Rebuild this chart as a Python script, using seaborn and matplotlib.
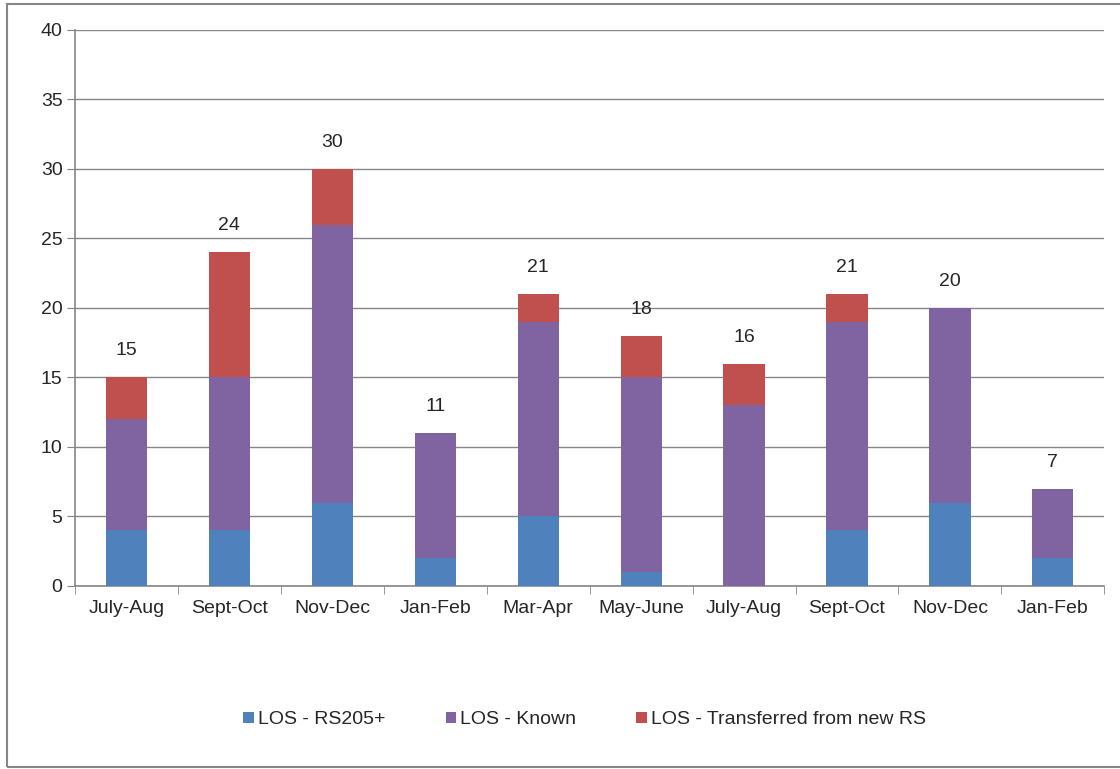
import numpy as np
import pandas as pd
import matplotlib
matplotlib.use("Agg")
import matplotlib.pyplot as plt
import seaborn as sns
from matplotlib.patches import Rectangle, Patch

# data
periods = ["July-Aug", "Sept-Oct", "Nov-Dec", "Jan-Feb", "Mar-Apr",
           "May-June", "July-Aug", "Sept-Oct", "Nov-Dec", "Jan-Feb"]
rs205 = [4, 4, 6, 2, 5, 1, 0, 4, 6, 2]
known = [8, 11, 20, 9, 14, 14, 13, 15, 14, 5]
transferred = [3, 9, 4, 0, 2, 3, 3, 2, 0, 0]
series_names = ["LOS - RS205+", "LOS - Known", "LOS - Transferred from new RS"]
colors = ["#4F81BD", "#8064A2", "#C0504D"]

sns.set_style("white")
plt.rcParams["font.family"] = ["Liberation Sans", "DejaVu Sans"]
fs = 14

# unique keys so repeated period names get their own slot
keys = [f"{i}" for i in range(len(periods))]
df = pd.DataFrame({"key": keys, "rs": rs205, "known": known, "tr": transferred})
df["lvl1"] = df["rs"]
df["lvl2"] = df["rs"] + df["known"]
df["lvl3"] = df["lvl2"] + df["tr"]

fig = plt.figure(figsize=(11.2, 7.69), dpi=100)
ax = fig.add_axes([0.067, 0.238, 0.919, 0.723])

# stacked look: draw cumulative totals from the top down
sns.barplot(data=df, x="key", y="lvl3", color=colors[2], width=0.4,
            saturation=1, ax=ax, zorder=3)
top_container = ax.containers[0]
sns.barplot(data=df, x="key", y="lvl2", color=colors[1], width=0.4,
            saturation=1, ax=ax, zorder=3)
sns.barplot(data=df, x="key", y="lvl1", color=colors[0], width=0.4,
            saturation=1, ax=ax, zorder=3)
for c in ax.containers:
    for p in c:
        p.set_linewidth(0)

ax.bar_label(top_container, labels=[str(v) for v in df["lvl3"]],
             padding=13, fontsize=fs)

ax.set_ylim(0, 40)
ax.set_xlim(-0.5, len(periods) - 0.5)
ax.set_yticks(np.arange(0, 41, 5))
ax.set_xticks(range(len(periods)))
ax.set_xticklabels(periods)
ax.set_xlabel("")
ax.set_ylabel("")
ax.yaxis.grid(True, color="#868686", linewidth=1, zorder=0)
ax.set_axisbelow(True)

for s in ["top", "right"]:
    ax.spines[s].set_visible(False)
for s in ["left", "bottom"]:
    ax.spines[s].set_color("#868686")
    ax.spines[s].set_linewidth(1.2)

ax.tick_params(axis="y", length=6, color="#868686", labelsize=fs, pad=3, left=True)
ax.tick_params(axis="x", length=0, labelsize=fs, pad=10)
# category boundary ticks on the x axis
ax.set_xticks(np.arange(-0.5, len(periods) + 0.5, 1), minor=True)
ax.tick_params(axis="x", which="minor", length=6, color="#868686", bottom=True)

handles = [Patch(facecolor=c, edgecolor="none") for c in colors]
fig.legend(handles, series_names, loc="center", bbox_to_anchor=(0.522, 0.064),
           ncol=3, frameon=False, fontsize=fs, handlelength=0.55,
           handleheight=0.55, handletextpad=0.2, columnspacing=3.1)

# outer chart border
fig.add_artist(Rectangle((0.006, 0.003), 1.2, 0.992, transform=fig.transFigure,
                         fill=False, edgecolor="#868686", linewidth=1.5))

fig.savefig("out.png", dpi=100)
